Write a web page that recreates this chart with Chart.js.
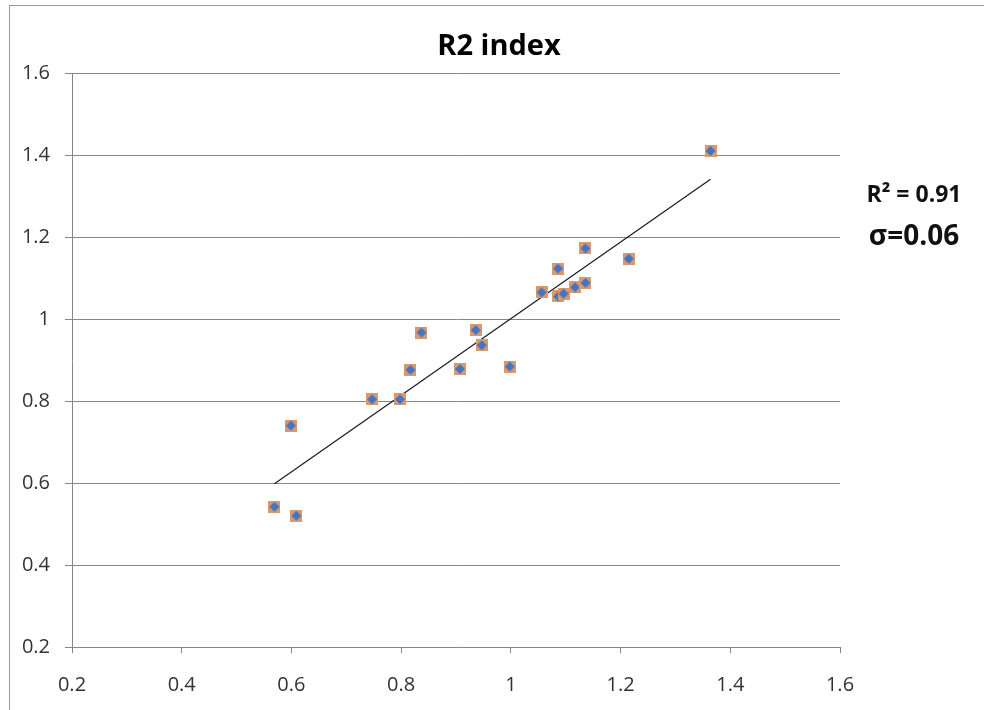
<!DOCTYPE html>
<html>
<head>
<meta charset="utf-8">
<script src="https://cdn.jsdelivr.net/npm/chart.js@4/dist/chart.umd.min.js"></script>
<style>
  html, body { margin: 0; padding: 0; background: #fff; overflow: hidden; }
  #wrap { position: relative; width: 998px; height: 710px; }
  #frame { position: absolute; left: 9px; top: 5px; width: 1000px; height: 720px; border: 1px solid #9a9a9a; }
  canvas { position: absolute; left: 0; top: 0; }
</style>
</head>
<body>
<div id="wrap">
  <div id="frame"></div>
  <canvas id="chart" width="998" height="710"></canvas>
</div>
<script>
// measured points (x, y)
var xValues = [0.569, 0.609, 0.599, 0.747, 0.798, 0.817, 0.837, 0.907, 0.936, 0.947,
               0.998, 1.056, 1.086, 1.086, 1.096, 1.117, 1.136, 1.136, 1.215, 1.364];
var yValues = [0.542, 0.520, 0.740, 0.804, 0.804, 0.876, 0.967, 0.878, 0.973, 0.936,
               0.884, 1.065, 1.123, 1.055, 1.062, 1.077, 1.088, 1.172, 1.147, 1.410];

// trend line end points
var trendX = [0.569, 1.364];
var trendY = [0.598, 1.341];

var tickStart = 0.2, tickEnd = 1.6, tickStep = 0.2;
var titleText = 'R2 index';
var statLabels = ['R\u00b2 = 0.91', '\u03c3=0.06'];

var FONT = "'Open Sans', 'DejaVu Sans', sans-serif";

// square orange marker with blue diamond
function makeMarker() {
	var c = document.createElement('canvas');
	c.width = 12; c.height = 12;
	var g = c.getContext('2d');
	g.fillStyle = '#d9996b';
	g.fillRect(0, 0, 12, 12);
	g.fillStyle = '#4474c4';
	g.beginPath();
	g.moveTo(6, 1); g.lineTo(11, 6); g.lineTo(6, 11); g.lineTo(1, 6);
	g.closePath();
	g.fill();
	return c;
}

function fmt(v) { return String(Number(v.toFixed(1))); }

var points = xValues.map(function (x, i) { return { x: x, y: yValues[i] }; });
var trend = trendX.map(function (x, i) { return { x: x, y: trendY[i] }; });

// title is centred on the whole chart object (frame), not on the plot
var textPlugin = {
	id: 'texts',
	afterDraw: function (chart) {
		var ctx = chart.ctx;
		ctx.save();
		ctx.fillStyle = '#000';
		ctx.textAlign = 'center';
		ctx.textBaseline = 'alphabetic';
		ctx.font = "bold 29px " + FONT;
		ctx.fillText(titleText, 499, 55);
		ctx.fillStyle = '#111';
		ctx.font = "bold 23px " + FONT;
		ctx.fillText(statLabels[0], 914, 202);
		ctx.font = "bold 28px " + FONT;
		ctx.fillText(statLabels[1], 914, 245);
		ctx.restore();
	}
};

var ctx = document.getElementById('chart');
var chart = new Chart(ctx, {
	type: 'scatter',
	data: {
		datasets: [{
			data: trend,
			showLine: true,
			borderColor: '#1a1a1a',
			borderWidth: 1.2,
			pointRadius: 0,
			order: 2
		}, {
			data: points,
			pointStyle: makeMarker(),
			pointRadius: 6,
			order: 1
		}]
	},
	options: {
		responsive: false,
		animation: false,
		layout: { padding: { left: 0, right: 158, top: 73, bottom: 0 } },
		plugins: {
			legend: { display: false },
			tooltip: { enabled: false },
			title: { display: false }
		},
		scales: {
			x: {
				type: 'linear',
				min: tickStart, max: tickEnd,
				afterFit: function (s) { s.height = 63; },
				ticks: {
					stepSize: tickStep,
					color: '#333',
					padding: 20,
					font: { family: FONT, size: 20 },
					callback: fmt
				},
				grid: { drawOnChartArea: false, drawTicks: true, tickLength: 6, color: '#868686' },
				border: { display: true, color: '#868686' }
			},
			y: {
				type: 'linear',
				min: tickStart, max: tickEnd,
				afterFit: function (s) { s.width = 72; },
				ticks: {
					stepSize: tickStep,
					color: '#333',
					padding: 15,
					font: { family: FONT, size: 20 },
					callback: fmt
				},
				grid: { color: '#868686', tickLength: 7 },
				border: { display: true, color: '#868686' }
			}
		}
	},
	plugins: [textPlugin]
});
</script>
</body>
</html>
